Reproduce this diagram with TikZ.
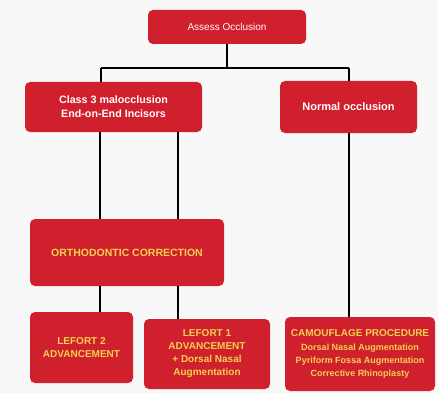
\documentclass[tikz,border=0pt]{standalone}
\usepackage{fontspec}
\setmainfont{Liberation Sans}
\definecolor{boxred}{RGB}{208,32,45}
\definecolor{boxyellow}{RGB}{244,208,80}
\definecolor{pagegray}{RGB}{248,248,248}

\begin{document}
\begin{tikzpicture}
			[x=1pt,y=-1pt,
			 box/.style={rectangle,rounded corners=5pt,fill=boxred,inner sep=0pt,align=center,font=\bfseries\fontsize{10}{13}\selectfont},
			 whitebox/.style={box,text=white},
			 yellowbox/.style={box,text=boxyellow},
			 small/.style={font=\bfseries\fontsize{8.5}{11.5}\selectfont},
			 edge/.style={draw=black,line width=1.1pt}]
			\fill[pagegray] (0,0) rectangle (438,393);
			\useasboundingbox (0,0) rectangle (438,393);

			\node[whitebox,minimum width=158pt,minimum height=34pt,font=\fontsize{10}{12}\selectfont] (assess) at (227,27) {Assess Occlusion};
			\node[whitebox,minimum width=177pt,minimum height=50pt,font=\bfseries\fontsize{10.7}{14}\selectfont] (class3) at (113.5,107) {Class 3 malocclusion\\End-on-End Incisors};
			\node[whitebox,minimum width=137pt,minimum height=52pt,font=\bfseries\fontsize{11}{13}\selectfont] (normal) at (348.5,107) {Normal occlusion};
			\node[yellowbox,minimum width=194pt,minimum height=67pt,font=\bfseries\fontsize{10.5}{13}\selectfont] (ortho) at (127,252.5) {ORTHODONTIC CORRECTION};
			\node[yellowbox,minimum width=103pt,minimum height=71pt] (lefort2) at (81.5,347.5) {LEFORT 2\\ADVANCEMENT};
			\node[yellowbox,minimum width=126pt,minimum height=70pt] (lefort1) at (207,354) {LEFORT 1\\ADVANCEMENT\\+ Dorsal Nasal\\Augmentation};
			\node[yellowbox,minimum width=150pt,minimum height=74pt] (camo) at (360,354) {CAMOUFLAGE PROCEDURE\\[1pt]{\small Dorsal Nasal Augmentation}\\{\small Pyriform Fossa Augmentation}\\{\small Corrective Rhinoplasty}};

			\coordinate (split) at (227,68);
			\coordinate (left) at (101,68);
			\coordinate (right) at (349,68);
			\coordinate (linea) at (100,0);
			\coordinate (lineb) at (178,0);

			\draw[edge] (assess) -- (split);
			\draw[edge] (left) -- (right);
			\draw[edge] (left) -- (class3.north -| left);
			\draw[edge] (right) -- (normal.north -| right);
			\draw[edge] (class3.south -| linea) -- (ortho.north -| linea);
			\draw[edge] (class3.south -| lineb) -- (ortho.north -| lineb);
			\draw[edge] (ortho.south -| linea) -- (lefort2.north -| linea);
			\draw[edge] (ortho.south -| lineb) -- (lefort1.north -| lineb);
			\draw[edge] (normal.south -| right) -- (camo.north -| right);

			\end{tikzpicture}
\end{document}
